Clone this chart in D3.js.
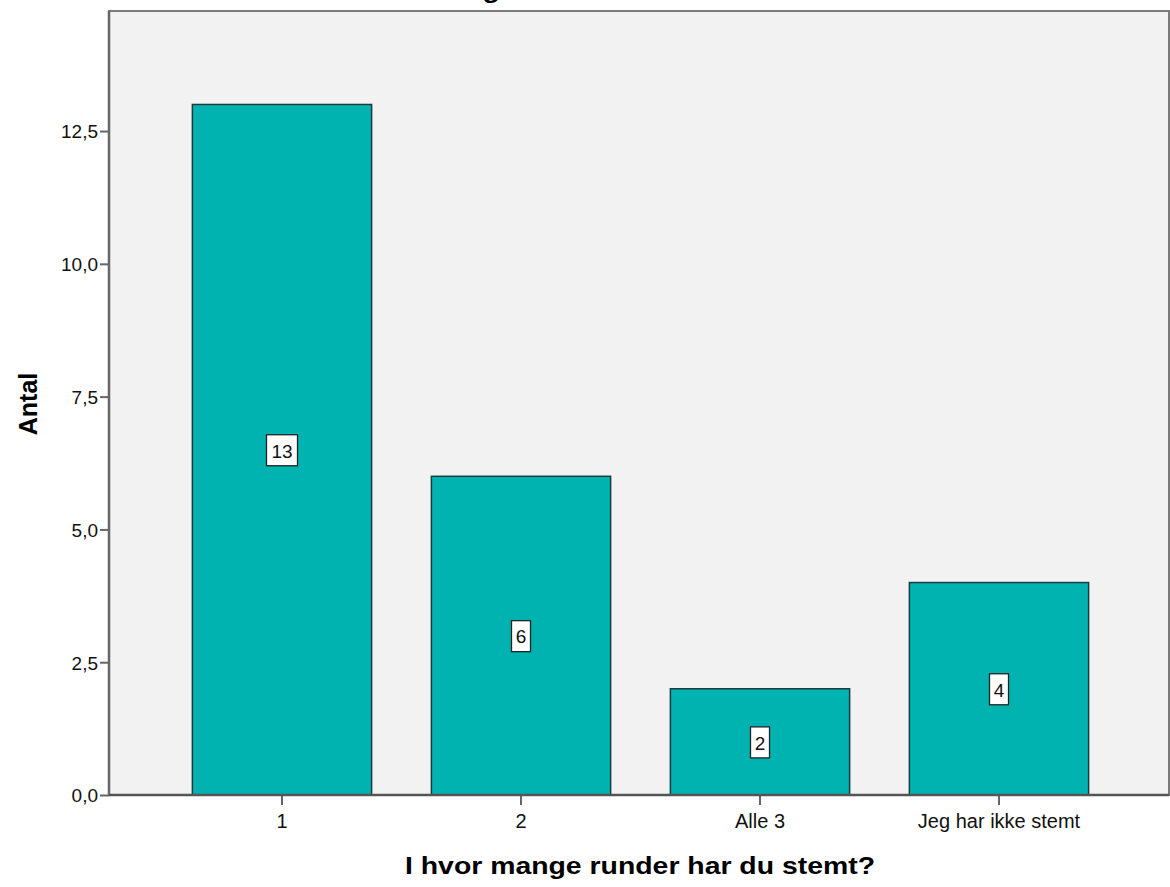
<!DOCTYPE html>
<html><head><meta charset="utf-8">
<script src="https://cdn.jsdelivr.net/npm/d3@7"></script>
<style>body{margin:0;background:#fff}svg{display:block}</style>
</head><body>
<script>
const categories = ["1", "2", "Alle 3", "Jeg har ikke stemt"];
const counts = [13, 6, 2, 4];
const yTicks = [0, 2.5, 5, 7.5, 10, 12.5];
const title = "I hvor mange runder har du stemt?";
const xTitle = "I hvor mange runder har du stemt?";
const yTitle = "Antal";

const W = 1170, H = 887;
const plot = {l: 109, r: 1169, t: 11, b: 795};
const svg = d3.select("body").append("svg").attr("width", W).attr("height", H);

const x = d3.scaleBand().domain(categories).range([162.5, 1118.5]).paddingInner(0.25).paddingOuter(0.125);
const y = d3.scaleLinear().domain([0, 14.76]).range([plot.b, plot.t]);

const sans = "Liberation Sans, Arial, sans-serif";

// top title (cropped by the image edge in the reference)
svg.append("text").attr("x", 574).attr("y", -2).attr("text-anchor", "middle")
  .style("font-family", sans).style("font-weight", "bold").style("font-size", "24px")
  .attr("textLength", 470).attr("lengthAdjust", "spacingAndGlyphs")
  .text(title);

svg.append("rect").attr("x", plot.l).attr("y", plot.t).attr("width", plot.r - plot.l).attr("height", plot.b - plot.t)
  .attr("fill", "#f2f2f2").attr("stroke", "#7a7a7a").attr("stroke-width", 2);

svg.selectAll("rect.bar").data(counts).join("rect").attr("class", "bar")
  .attr("x", (d, i) => x(categories[i])).attr("width", x.bandwidth())
  .attr("y", d => y(d)).attr("height", d => y(0) - y(d))
  .attr("fill", "#00b2b0").attr("stroke", "#1e3b3b").attr("stroke-width", 1.5);

// axes
const yAxis = svg.append("g").attr("transform", `translate(${plot.l},0)`)
  .call(d3.axisLeft(y).tickValues(yTicks).tickSize(9).tickPadding(2)
    .tickFormat(d => d3.format(".1f")(d).replace(".", ",")));
const xAxis = svg.append("g").attr("transform", `translate(0,${plot.b})`)
  .call(d3.axisBottom(x).tickSize(10).tickPadding(9));
[yAxis, xAxis].forEach(a => {
  a.select(".domain").remove();
  a.selectAll(".tick line").attr("stroke", "#666").attr("stroke-width", 2);
  a.selectAll(".tick text").attr("fill", "#111").style("font-family", sans).style("font-size", "19px");
});
xAxis.selectAll(".tick text").style("font-size", "20px");
yAxis.selectAll(".tick text").attr("dy", "0.36em");
svg.append("line").attr("x1", plot.l).attr("x2", plot.l).attr("y1", plot.t).attr("y2", plot.b).attr("stroke", "#666").attr("stroke-width", 2.5);
svg.append("line").attr("x1", plot.l).attr("x2", plot.r).attr("y1", plot.b).attr("y2", plot.b).attr("stroke", "#555").attr("stroke-width", 2.5);

// value labels
const lab = svg.selectAll("g.lab").data(counts).join("g").attr("class", "lab")
  .attr("transform", (d, i) => `translate(${x(categories[i]) + x.bandwidth() / 2},${y(d / 2)})`);
lab.each(function(d) {
  const g = d3.select(this);
  const w = String(d).length > 1 ? 31 : 19;
  g.append("rect").attr("x", -w / 2).attr("y", -15).attr("width", w).attr("height", 31)
    .attr("fill", "#fff").attr("stroke", "#222").attr("stroke-width", 1.3);
  g.append("text").attr("text-anchor", "middle").attr("dy", "0.36em").attr("y", 1)
    .style("font-family", sans).style("font-size", "19px").attr("fill", "#111").text(d);
});

svg.append("text").attr("x", 640).attr("y", 874).attr("text-anchor", "middle")
  .style("font-family", sans).style("font-weight", "bold").style("font-size", "24px")
  .attr("textLength", 470).attr("lengthAdjust", "spacingAndGlyphs").text(xTitle);
svg.append("text").attr("transform", "translate(37,404) rotate(-90)").attr("text-anchor", "middle")
  .style("font-family", sans).style("font-weight", "bold").style("font-size", "25px").text(yTitle);
</script>
</body></html>
